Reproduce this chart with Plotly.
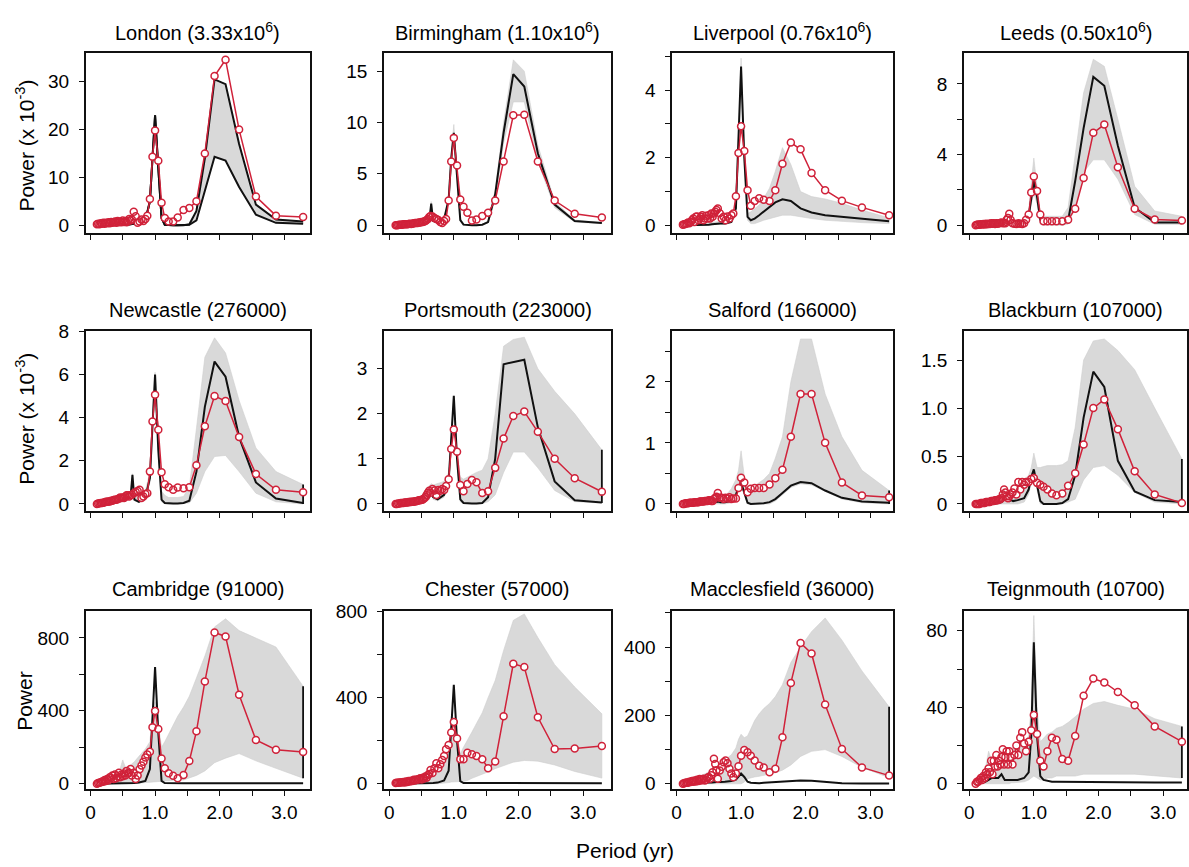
import plotly.graph_objects as go

# ---------------------------------------------------------------------------
# Periods (yr) of the observed spectra and of the model spectra / envelopes
# ---------------------------------------------------------------------------
period_obs = [0.10, 0.12, 0.14, 0.16, 0.18, 0.20, 0.22, 0.24, 0.26, 0.28,
              0.30, 0.32, 0.34, 0.36, 0.38, 0.40, 0.42, 0.44, 0.46, 0.48,
              0.50, 0.52, 0.54, 0.56, 0.58, 0.60,
              0.62, 0.64, 0.67, 0.70, 0.73, 0.76, 0.79, 0.82, 0.85, 0.88,
              0.92, 0.96, 1.00, 1.05, 1.10, 1.15, 1.21, 1.28, 1.35, 1.44,
              1.53, 1.64, 1.77, 1.92, 2.09, 2.30, 2.56, 2.87, 3.29]

period_mod = [0.10, 0.25, 0.30, 0.35, 0.45, 0.50, 0.55, 0.62, 0.65, 0.68,
              0.75, 0.85, 0.92, 0.96, 1.00, 1.05, 1.10, 1.15, 1.21, 1.28,
              1.35, 1.44, 1.53, 1.64, 1.77, 1.92, 2.09, 2.30, 2.56, 2.87,
              3.29]

# ---------------------------------------------------------------------------
# London (power x 10^-3)
# ---------------------------------------------------------------------------
london_obs = [0.2, 0.3, 0.2, 0.4, 0.3, 0.5, 0.3, 0.5, 0.4, 0.6,
              0.4, 0.7, 0.5, 0.6, 0.8, 0.5, 0.9, 0.6, 0.8, 0.6,
              1.0, 0.7, 0.9, 0.6, 0.9, 1.3,
              1.0, 1.2, 2.8, 1.9, 0.5, 0.8, 1.2, 0.9, 1.3, 2.0,
              5.5, 14.3, 19.8, 13.5, 4.7, 1.5, 0.8, 0.8, 1.6, 3.2,
              3.6, 5.0, 15.0, 31.2, 34.6, 20.0, 6.0, 2.0, 1.7]
london_mod = [0, 0, 0, 0, 0.05, 0.1, 0.1, 0.2, 0.3, 0.3,
              0.5, 1.0, 5.0, 14.0, 23.0, 12.0, 1.5, 0.1, 0.0, 0.0,
              0.0, 0.0, 0.2, 3.0, 14.0, 30.5, 29.5, 17.0, 4.3, 1.2,
              0.8]
london_lo = [0, 0, 0, 0, 0.05, 0.1, 0.1, 0.2, 0.3, 0.3,
             0.5, 1.0, 5.0, 14.0, 23.0, 12.0, 1.5, 0.1, 0, 0,
             0, 0, 0.1, 1.0, 7.0, 14.3, 13.5, 8.0, 2.2, 0.5,
             0.3]
london_hi = [0, 0, 0, 0, 0.05, 0.1, 0.1, 0.2, 0.3, 0.3,
             0.5, 1.0, 5.0, 14.0, 23.0, 12.0, 1.5, 0.1, 0.0, 0.0,
             0.0, 0.0, 0.2, 3.0, 14.0, 30.5, 29.5, 17.0, 4.3, 1.2,
             0.8]

# Birmingham (power x 10^-3)
birmingham_obs = [0.0, 0.0, 0.02, 0.05, 0.05, 0.05, 0.08, 0.1, 0.08, 0.1,
                  0.12, 0.15, 0.12, 0.15, 0.18, 0.2, 0.2, 0.22, 0.25, 0.25,
                  0.3, 0.3, 0.35, 0.4, 0.5, 0.6,
                  0.8, 0.9, 0.85, 0.7, 0.6, 0.5, 0.3, 0.2, 0.4, 0.6,
                  2.4, 6.2, 8.5, 5.8, 2.5, 1.8, 1.2, 0.45, 0.55, 0.9,
                  1.2, 2.4, 6.2, 10.7, 10.75, 6.2, 2.4, 1.1, 0.75]
birmingham_mod = [0, 0.05, 0.05, 0.05, 0.1, 0.2, 0.3, 0.4, 2.1, 0.4,
                  0.3, 0.6, 2.5, 6.5, 9.0, 5.0, 0.5, 0.05, 0.0, 0.0,
                  0.0, 0.05, 0.3, 3.0, 9.0, 14.7, 13.5, 7.0, 2.0, 0.4,
                  0.2]
birmingham_lo = [0, 0.04, 0.04, 0.04, 0.08, 0.15, 0.25, 0.3, 1.9, 0.3,
                 0.25, 0.5, 2.2, 6.0, 8.3, 4.5, 0.4, 0.03, 0, 0,
                 0, 0.03, 0.2, 2.5, 8.0, 12.0, 12.0, 6.2, 1.7, 0.3,
                 0.15]
birmingham_hi = [0.02, 0.07, 0.07, 0.07, 0.12, 0.25, 0.35, 0.5, 2.3, 0.5,
                 0.4, 0.7, 2.8, 7.0, 9.8, 5.5, 0.7, 0.1, 0.05, 0.05,
                 0.05, 0.1, 0.4, 3.4, 10.0, 16.1, 15.0, 7.8, 2.3, 0.5,
                 0.25]

# Liverpool (power x 10^-3)
liverpool_obs = [0.02, 0.03, 0.04, 0.05, 0.08, 0.06, 0.1, 0.15, 0.2, 0.1,
                 0.25, 0.26, 0.15, 0.2, 0.25, 0.3, 0.15, 0.2, 0.28, 0.2,
                 0.3, 0.2, 0.35, 0.25, 0.35, 0.4,
                 0.45, 0.5, 0.36, 0.2, 0.25, 0.15, 0.26, 0.2, 0.3, 0.35,
                 0.86, 2.14, 2.93, 2.2, 1.04, 0.58, 0.72, 0.8, 0.76, 0.72,
                 1.04, 1.82, 2.45, 2.25, 1.55, 1.04, 0.73, 0.53, 0.3]
liverpool_mod = [0, 0, 0, 0, 0.02, 0.02, 0.03, 0.05, 0.05, 0.05,
                 0.05, 0.1, 0.5, 2.4, 4.7, 2.0, 0.25, 0.15, 0.2, 0.3,
                 0.4, 0.55, 0.68, 0.77, 0.72, 0.5, 0.38, 0.3, 0.25, 0.2,
                 0.12]
liverpool_lo = [0, 0, 0, 0, 0.01, 0.01, 0.02, 0.03, 0.03, 0.03,
                0.03, 0.07, 0.4, 2.2, 4.5, 1.8, 0.15, 0.05, 0.05, 0.1,
                0.15, 0.2, 0.25, 0.3, 0.3, 0.25, 0.2, 0.15, 0.12, 0.08,
                0.05]
liverpool_hi = [0.03, 0.05, 0.06, 0.07, 0.08, 0.08, 0.1, 0.1, 0.12, 0.12,
                0.12, 0.18, 0.6, 2.6, 4.95, 2.3, 0.35, 0.4, 0.5, 0.6,
                0.8, 1.1, 1.6, 2.3, 1.8, 1.0, 0.85, 0.78, 0.65, 0.45,
                0.22]

# Leeds (power x 10^-3)
leeds_obs = [0.0, 0.02, 0.03, 0.02, 0.05, 0.03, 0.06, 0.04, 0.08, 0.05,
             0.08, 0.06, 0.1, 0.08, 0.1, 0.06, 0.1, 0.08, 0.1, 0.12,
             0.15, 0.1, 0.12, 0.1, 0.3, 0.4,
             0.65, 0.3, 0.1, 0.08, 0.07, 0.1, 0.08, 0.07, 0.1, 0.3,
             0.6, 1.85, 2.76, 1.93, 0.6, 0.22, 0.22, 0.22, 0.22, 0.22,
             0.3, 0.93, 2.67, 5.23, 5.7, 3.28, 0.93, 0.32, 0.26]
leeds_mod = [0, 0, 0.02, 0.02, 0.03, 0.03, 0.05, 0.08, 0.1, 0.08,
             0.05, 0.1, 0.5, 1.6, 2.5, 1.6, 0.3, 0.1, 0.1, 0.1,
             0.1, 0.1, 0.25, 2.5, 5.5, 8.4, 7.9, 4.5, 1.0, 0.15,
             0.15]
leeds_lo = [0, 0, 0, 0, 0, 0, 0, 0, 0, 0,
            0, 0.02, 0.3, 1.2, 1.8, 1.2, 0.05, 0, 0, 0,
            0, 0, 0.05, 1.0, 3.0, 3.7, 3.7, 2.6, 0.6, 0.05,
            0.05]
leeds_hi = [0.05, 0.06, 0.08, 0.08, 0.1, 0.1, 0.12, 0.15, 0.18, 0.15,
            0.15, 0.2, 0.8, 2.4, 3.8, 2.2, 0.6, 0.5, 0.5, 0.5,
            0.5, 0.5, 1.0, 4.0, 7.5, 9.4, 9.0, 6.0, 2.2, 0.8,
            0.5]

# Newcastle (power x 10^-3)
newcastle_obs = [0.0, 0.02, 0.03, 0.05, 0.05, 0.06, 0.08, 0.1, 0.1, 0.12,
                 0.12, 0.15, 0.15, 0.18, 0.2, 0.2, 0.22, 0.25, 0.3, 0.28,
                 0.3, 0.28, 0.35, 0.4, 0.4, 0.35,
                 0.4, 0.43, 0.5, 0.55, 0.6, 0.66, 0.28, 0.35, 0.46, 0.5,
                 1.5, 3.82, 5.06, 3.44, 1.47, 0.92, 0.78, 0.66, 0.76, 0.73,
                 0.78, 1.8, 3.6, 5.0, 4.77, 3.1, 1.39, 0.66, 0.54]
newcastle_mod = [0, 0.05, 0.05, 0.08, 0.1, 0.15, 0.2, 0.3, 1.35, 0.2,
                 0.1, 0.3, 1.2, 4.0, 6.0, 2.5, 0.2, 0.05, 0.02, 0.02,
                 0.02, 0.05, 0.15, 1.5, 4.5, 6.6, 5.9, 3.1, 1.0, 0.25,
                 0.05]
newcastle_lo = [0, 0.03, 0.03, 0.05, 0.07, 0.1, 0.15, 0.2, 1.2, 0.15,
                0.07, 0.2, 1.0, 3.7, 5.8, 2.2, 0.1, 0.02, 0, 0,
                0, 0.02, 0.05, 0.5, 1.5, 2.2, 2.25, 1.5, 0.5, 0.1,
                0.0]
newcastle_hi = [0.05, 0.1, 0.12, 0.15, 0.2, 0.25, 0.3, 0.4, 1.4, 0.4,
                0.4, 0.6, 1.5, 4.3, 6.1, 3.0, 0.6, 0.4, 0.3, 0.3,
                0.3, 0.35, 0.8, 3.5, 6.8, 7.7, 7.0, 4.8, 2.6, 1.5,
                0.9]

# Portsmouth (power x 10^-3)
portsmouth_obs = [0.0, 0.0, 0.01, 0.01, 0.02, 0.02, 0.02, 0.03, 0.03, 0.03,
                  0.04, 0.04, 0.05, 0.05, 0.05, 0.06, 0.06, 0.07, 0.08, 0.08,
                  0.09, 0.1, 0.12, 0.15, 0.2, 0.25,
                  0.29, 0.25, 0.33, 0.3, 0.2, 0.31, 0.29, 0.33, 0.31, 0.4,
                  0.55, 1.22, 1.65, 1.16, 0.42, 0.28, 0.44, 0.53, 0.48, 0.24,
                  0.28, 0.8, 1.45, 1.95, 2.05, 1.6, 1.0, 0.57, 0.27]
portsmouth_mod = [0, 0.01, 0.02, 0.03, 0.05, 0.08, 0.1, 0.15, 0.38, 0.15,
                  0.1, 0.2, 0.5, 1.5, 2.4, 1.0, 0.1, 0.02, 0.01, 0.01,
                  0.01, 0.02, 0.15, 1.0, 3.1, 3.15, 3.2, 1.7, 0.5, 0.08,
                  0.03]
portsmouth_lo = [0, 0, 0.01, 0.02, 0.03, 0.05, 0.07, 0.1, 0.3, 0.1,
                 0.07, 0.15, 0.4, 1.4, 2.3, 0.9, 0.05, 0.01, 0, 0,
                 0, 0.01, 0.05, 0.2, 0.7, 1.15, 1.15, 0.8, 0.3, 0.05,
                 0.02]
portsmouth_hi = [0.02, 0.05, 0.06, 0.08, 0.12, 0.18, 0.3, 0.4, 0.45, 0.42,
                 0.45, 0.5, 0.7, 1.6, 2.4, 1.2, 0.6, 0.55, 0.6, 0.65,
                 0.7, 0.75, 1.0, 2.0, 3.5, 3.65, 3.7, 3.0, 2.5, 2.0,
                 1.2]

# Salford (power x 10^-3)
salford_obs = [0.0, 0.0, 0.01, 0.01, 0.01, 0.02, 0.02, 0.02, 0.02, 0.03,
               0.03, 0.03, 0.03, 0.04, 0.04, 0.04, 0.04, 0.05, 0.05, 0.05,
               0.06, 0.06, 0.05, 0.05, 0.08, 0.1,
               0.12, 0.18, 0.1, 0.1, 0.08, 0.1, 0.09, 0.11, 0.08, 0.09,
               0.09, 0.26, 0.43, 0.35, 0.19, 0.25, 0.26, 0.26, 0.26, 0.32,
               0.42, 0.56, 1.1, 1.8, 1.8, 1.0, 0.35, 0.14, 0.11]
salford_mod = [0, 0, 0, 0.01, 0.01, 0.02, 0.02, 0.03, 0.04, 0.03,
               0.03, 0.05, 0.15, 0.28, 0.35, 0.2, 0.02, 0.0, 0.0, 0.0,
               0.01, 0.03, 0.08, 0.18, 0.3, 0.36, 0.34, 0.22, 0.1, 0.04,
               0.02]
salford_lo = [0, 0, 0, 0, 0, 0, 0, 0, 0, 0,
              0, 0.02, 0.1, 0.22, 0.3, 0.15, 0, 0, 0, 0,
              0, 0, 0.05, 0.15, 0.27, 0.33, 0.31, 0.2, 0.08, 0.02,
              0.0]
salford_hi = [0.01, 0.02, 0.03, 0.03, 0.04, 0.05, 0.06, 0.08, 0.08, 0.08,
              0.12, 0.25, 0.4, 0.55, 0.87, 0.45, 0.25, 0.28, 0.3, 0.35,
              0.4, 0.5, 0.75, 1.1, 2.0, 2.7, 2.7, 1.8, 1.1, 0.55,
              0.22]

# Blackburn (power x 10^-3)
blackburn_obs = [0.0, 0.0, 0.0, 0.0, 0.01, 0.01, 0.01, 0.01, 0.02, 0.02,
                 0.02, 0.02, 0.03, 0.03, 0.03, 0.04, 0.04, 0.04, 0.05, 0.05,
                 0.06, 0.1, 0.15, 0.12, 0.08, 0.06,
                 0.08, 0.1, 0.12, 0.16, 0.1, 0.23, 0.15, 0.23, 0.2, 0.23,
                 0.23, 0.26, 0.27, 0.22, 0.2, 0.18, 0.15, 0.11, 0.09, 0.11,
                 0.19, 0.32, 0.62, 1.0, 1.09, 0.78, 0.34, 0.1, 0.01]
blackburn_mod = [0, 0, 0, 0, 0.01, 0.02, 0.05, 0.03, 0.04, 0.03,
                 0.04, 0.06, 0.15, 0.28, 0.36, 0.2, 0.03, 0.0, 0.0, 0.0,
                 0.0, 0.01, 0.05, 0.3, 0.9, 1.38, 1.22, 0.45, 0.13, 0.04,
                 0.02]
blackburn_lo = [0, 0, 0, 0, 0, 0, 0, 0, 0, 0,
                0, 0.02, 0.1, 0.22, 0.3, 0.15, 0, 0, 0, 0,
                0, 0, 0.02, 0.05, 0.25, 0.38, 0.4, 0.3, 0.12, 0.02,
                0.0]
blackburn_hi = [0.0, 0.02, 0.03, 0.04, 0.05, 0.06, 0.08, 0.1, 0.12, 0.14,
                0.18, 0.25, 0.3, 0.38, 0.53, 0.38, 0.38, 0.39, 0.4, 0.4,
                0.4, 0.41, 0.45, 0.8, 1.5, 1.7, 1.72, 1.6, 1.4, 1.0,
                0.47]

# Cambridge (power)
cambridge_obs = [0, 3, 5, 8, 12, 10, 20, 15, 25, 18,
                 35, 30, 45, 25, 50, 30, 40, 60, 35, 50,
                 40, 55, 45, 70, 55, 60,
                 80, 45, 60, 25, 45, 79, 99, 120, 143, 160,
                 175, 309, 399, 300, 138, 84, 57, 43, 30, 48,
                 124, 287, 560, 830, 808, 488, 240, 186, 174]
cambridge_mod = [0, 0, 1, 1, 2, 2, 3, 3, 4, 4,
                 6, 15, 80, 340, 640, 280, 15, 3, 2, 2,
                 2, 2, 2, 2, 2, 2, 2, 2, 2, 2,
                 2]
cambridge_lo = [0, 0, 0, 0, 0, 0, 0, 0, 0, 0,
                0, 2, 5, 8, 10, 10, 10, 12, 15, 18,
                20, 20, 30, 45, 70, 115, 140, 165, 125, 84,
                30]
cambridge_hi = [5, 30, 40, 50, 70, 130, 80, 100, 110, 120,
                150, 190, 230, 380, 450, 330, 200, 230, 270, 325,
                370, 420, 480, 580, 700, 860, 905, 840, 800, 750,
                535]

# Chester (power)
chester_obs = [3, 4, 4, 5, 6, 7, 8, 6, 10, 8,
               12, 10, 14, 12, 18, 15, 20, 18, 22, 25,
               20, 28, 24, 34, 28, 40,
               45, 64, 50, 72, 95, 72, 90, 110, 129, 160,
               180, 238, 287, 210, 114, 114, 144, 137, 129, 114,
               72, 103, 314, 558, 543, 309, 161, 164, 175]
chester_mod = [0, 0, 1, 1, 1, 2, 2, 2, 3, 3,
               5, 15, 60, 250, 460, 200, 12, 3, 3, 3,
               2, 2, 2, 2, 2, 2, 2, 2, 2, 2,
               2]
chester_lo = [0, 0, 0, 0, 0, 0, 0, 0, 0, 0,
              0, 2, 5, 8, 10, 10, 10, 10, 15, 25,
              35, 45, 55, 70, 85, 100, 108, 105, 87, 57,
              26]
chester_hi = [3, 15, 20, 25, 35, 40, 50, 60, 70, 80,
              100, 130, 160, 250, 300, 230, 140, 170, 200, 240,
              280, 330, 400, 480, 620, 760, 790, 680, 554, 450,
              325]

# Macclesfield (power)
macclesfield_obs = [0, 2, 3, 4, 3, 6, 5, 8, 6, 10,
                    7, 12, 8, 14, 10, 12, 15, 10, 12, 18,
                    20, 15, 25, 34, 73, 58,
                    40, 15, 39, 50, 63, 68, 60, 44, 30, 19,
                    30, 51, 82, 99, 92, 82, 68, 53, 48, 34,
                    44, 136, 295, 412, 381, 232, 102, 48, 24]
macclesfield_mod = [0, 3, 15, 5, 4, 5, 4, 5, 6, 5,
                    6, 8, 12, 20, 30, 20, 6, 3, 2, 2,
                    3, 4, 5, 7, 9, 10, 9, 5, 2, 1,
                    1]
macclesfield_lo = [0, 0, 0, 0, 0, 0, 0, 0, 0, 0,
                   0, 0, 0, 0, 0, 5, 15, 18, 20, 22,
                   25, 28, 32, 40, 55, 80, 95, 100, 80, 48,
                   18]
macclesfield_hi = [2, 15, 20, 22, 30, 35, 40, 50, 55, 60,
                   70, 85, 105, 130, 145, 135, 140, 160, 185, 205,
                   220, 235, 255, 290, 355, 400, 445, 485, 420, 330,
                   225]

# Teignmouth (power)
teignmouth_obs = [0, 1, 1, 2, 3, 2, 4, 3, 6, 5,
                  8, 6, 12, 5, 12, 9, 15, 9, 12, 10,
                  14, 18, 10, 14, 17, 10,
                  17, 14, 10, 15, 20, 15, 24, 27, 21, 17,
                  22, 28, 36, 26, 12, 9, 17, 24, 23, 13,
                  12, 25, 46, 55, 53, 48, 41, 30, 22]
teignmouth_mod = [0, 1, 2, 3, 3, 5, 2, 2, 2, 2,
                  2, 3, 6, 25, 74, 25, 4, 2, 1.5, 1,
                  1, 1, 1, 0.8, 0.8, 0.8, 0.8, 0.8, 0.7, 0.7,
                  0.6]
teignmouth_lo = [0, 0, 0, 0, 0, 0, 0, 0, 0.5, 0.5,
                 0.5, 1, 2, 3, 4, 3, 2, 2, 3, 3,
                 4, 4, 4, 4, 5, 5, 5, 5, 5, 4,
                 3]
teignmouth_hi = [1, 8, 17, 12, 14, 15, 14, 16, 18, 19,
                 20, 22, 25, 40, 88, 40, 22, 24, 26, 27,
                 29, 30, 32, 35, 39, 42, 43, 41, 39, 34,
                 30]

# Panel titles (city and population)
titles = ["London (3.33x10<sup>6</sup>)", "Birmingham (1.10x10<sup>6</sup>)",
          "Liverpool (0.76x10<sup>6</sup>)", "Leeds (0.50x10<sup>6</sup>)",
          "Newcastle (276000)", "Portsmouth (223000)",
          "Salford (166000)", "Blackburn (107000)",
          "Cambridge (91000)", "Chester (57000)",
          "Macclesfield (36000)", "Teignmouth (10700)"]

# Axis ticks
x_tickvals = [0, 0.5, 1.0, 1.5, 2.0, 2.5, 3.0]
x_ticktext = ["0", "", "1.0", "", "2.0", "", "3.0"]

y_tickvals = [[0, 10, 20, 30], [0, 5, 10, 15], [0, 1, 2, 3, 4, 5], [0, 2, 4, 6, 8],
              [0, 2, 4, 6, 8], [0, 1, 2, 3], [0, 0.5, 1, 1.5, 2, 2.5], [0, 0.5, 1.0, 1.5],
              [0, 200, 400, 600, 800], [0, 200, 400, 600, 800],
              [0, 100, 200, 300, 400, 500], [0, 20, 40, 60, 80]]
y_ticktext = [["0", "10", "20", "30"], ["0", "5", "10", "15"],
              ["0", "", "2", "", "4", ""], ["0", "", "4", "", "8"],
              ["0", "2", "4", "6", "8"], ["0", "1", "2", "3"],
              ["0", "", "1", "", "2", ""], ["0", "0.5", "1.0", "1.5"],
              ["0", "", "400", "", "800"], ["0", "", "400", "", "800"],
              ["0", "", "200", "", "400", ""], ["0", "", "40", "", "80"]]

series = [
    (london_obs, london_mod, london_lo, london_hi),
    (birmingham_obs, birmingham_mod, birmingham_lo, birmingham_hi),
    (liverpool_obs, liverpool_mod, liverpool_lo, liverpool_hi),
    (leeds_obs, leeds_mod, leeds_lo, leeds_hi),
    (newcastle_obs, newcastle_mod, newcastle_lo, newcastle_hi),
    (portsmouth_obs, portsmouth_mod, portsmouth_lo, portsmouth_hi),
    (salford_obs, salford_mod, salford_lo, salford_hi),
    (blackburn_obs, blackburn_mod, blackburn_lo, blackburn_hi),
    (cambridge_obs, cambridge_mod, cambridge_lo, cambridge_hi),
    (chester_obs, chester_mod, chester_lo, chester_hi),
    (macclesfield_obs, macclesfield_mod, macclesfield_lo, macclesfield_hi),
    (teignmouth_obs, teignmouth_mod, teignmouth_lo, teignmouth_hi),
]

# ---------------------------------------------------------------------------
# Layout (pixel geometry of the 4 x 3 grid)
# ---------------------------------------------------------------------------
W, H = 1189, 867
PX_PER_YEAR = 64.7
COLS = [(85, 309, 89.5), (383.5, 610.5, 388.5), (672, 893, 676), (964, 1187, 969)]
ROWS = [(43.5, 227), (327, 509.5), (611.7, 793)]
Y_RANGES = [(-1.64, 36.06), (-0.77, 16.79), (-0.23, 5.11), (-0.45, 9.77),
            (-0.31, 8.0), (-0.15, 3.83), (-0.11, 2.825), (-0.07, 1.80),
            (-31, 947), (-26, 803), (-16, 505), (-2.9, 90.3)]
# panels whose envelope is closed by a black edge at the longest period
CLOSED_EDGE = [False, False, False, False, True, True, True, True,
               True, False, True, True]
# London's envelope is outlined in black
BLACK_OUTLINE = [True] + [False] * 11

RED = "#d0223a"
GREY = "#d9d9d9"
BLACK = "#111111"
FONT = "Liberation Sans, Arial, Helvetica, sans-serif"
MARKER_SIZE = 7

fig = go.Figure()
layout = dict(
    width=W, height=H,
    margin=dict(l=0, r=0, t=0, b=0),
    paper_bgcolor="white", plot_bgcolor="white",
    showlegend=False,
    font=dict(family=FONT, color="black"),
)
annotations = []

for i, (obs, mod, lo, hi) in enumerate(series):
    r, c = divmod(i, 4)
    left, right, x0 = COLS[c]
    top, bottom = ROWS[r]
    n = "" if i == 0 else str(i + 1)
    xa, ya = "x" + n, "y" + n

    # simulation envelope
    fig.add_trace(go.Scatter(
        x=period_mod + period_mod[::-1], y=hi + lo[::-1],
        mode="lines", fill="toself", fillcolor=GREY,
        line=dict(color="#cfcfcf", width=0.6),
        xaxis=xa, yaxis=ya, hoverinfo="skip"))
    if BLACK_OUTLINE[i]:
        fig.add_trace(go.Scatter(x=period_mod, y=lo, mode="lines",
                                 line=dict(color=BLACK, width=2),
                                 xaxis=xa, yaxis=ya, hoverinfo="skip"))
    if CLOSED_EDGE[i]:
        fig.add_trace(go.Scatter(x=[period_mod[-1], period_mod[-1]],
                                 y=[lo[-1], hi[-1]], mode="lines",
                                 line=dict(color=BLACK, width=1.8),
                                 xaxis=xa, yaxis=ya, hoverinfo="skip"))
    # model spectrum
    fig.add_trace(go.Scatter(x=period_mod, y=mod, mode="lines",
                             line=dict(color=BLACK, width=2),
                             xaxis=xa, yaxis=ya))
    # observed spectrum: connecting line, white disc, then red ring on top
    fig.add_trace(go.Scatter(x=period_obs, y=obs, mode="lines",
                             line=dict(color=RED, width=1.5),
                             xaxis=xa, yaxis=ya))
    fig.add_trace(go.Scatter(x=period_obs, y=obs, mode="markers",
                             marker=dict(symbol="circle", size=MARKER_SIZE - 1,
                                         color="white", line=dict(width=0)),
                             xaxis=xa, yaxis=ya, hoverinfo="skip"))
    fig.add_trace(go.Scatter(x=period_obs, y=obs, mode="markers",
                             marker=dict(symbol="circle-open", size=MARKER_SIZE,
                                         color=RED, line=dict(color=RED, width=1.5)),
                             xaxis=xa, yaxis=ya))

    bottom_row = (r == 2)
    layout["xaxis" + n] = dict(
        domain=[left / W, right / W], anchor=ya,
        range=[(left - x0) / PX_PER_YEAR, (right - x0) / PX_PER_YEAR],
        tickvals=x_tickvals,
        ticktext=x_ticktext if bottom_row else [""] * len(x_tickvals),
        showticklabels=bottom_row,
        ticks="outside", ticklen=5, tickwidth=1.3, tickcolor=BLACK,
        showline=True, mirror=True, linecolor=BLACK, linewidth=2,
        showgrid=False, zeroline=False,
        tickfont=dict(size=19, family=FONT, color="black"),
    )
    layout["yaxis" + n] = dict(
        domain=[1 - bottom / H, 1 - top / H], anchor=xa,
        range=list(Y_RANGES[i]),
        tickvals=y_tickvals[i], ticktext=y_ticktext[i],
        ticks="outside", ticklen=5, tickwidth=1.3, tickcolor=BLACK,
        showline=True, mirror=True, linecolor=BLACK, linewidth=2,
        showgrid=False, zeroline=False,
        ticklabelstandoff=6,
        tickfont=dict(size=19, family=FONT, color="black"),
    )
    annotations.append(dict(
        text=titles[i], xref="paper", yref="paper",
        x=(left + right) / 2 / W, y=1 - (top - 22) / H,
        xanchor="center", yanchor="middle", showarrow=False,
        font=dict(size=20, family=FONT, color="black")))

# axis titles
for label, yc in [("Power (x 10<sup>-3</sup>)", 138), ("Power (x 10<sup>-3</sup>)", 416),
                  ("Power", 703)]:
    annotations.append(dict(
        text=label, xref="paper", yref="paper", x=24 / W, y=1 - yc / H,
        xanchor="center", yanchor="middle", textangle=-90, showarrow=False,
        font=dict(size=21, family=FONT, color="black")))
annotations.append(dict(
    text="Period (yr)", xref="paper", yref="paper", x=625 / W, y=1 - 855 / H,
    xanchor="center", yanchor="middle", showarrow=False,
    font=dict(size=21, family=FONT, color="black")))

layout["annotations"] = annotations
fig.update_layout(**layout)
fig.write_html("out.html")
